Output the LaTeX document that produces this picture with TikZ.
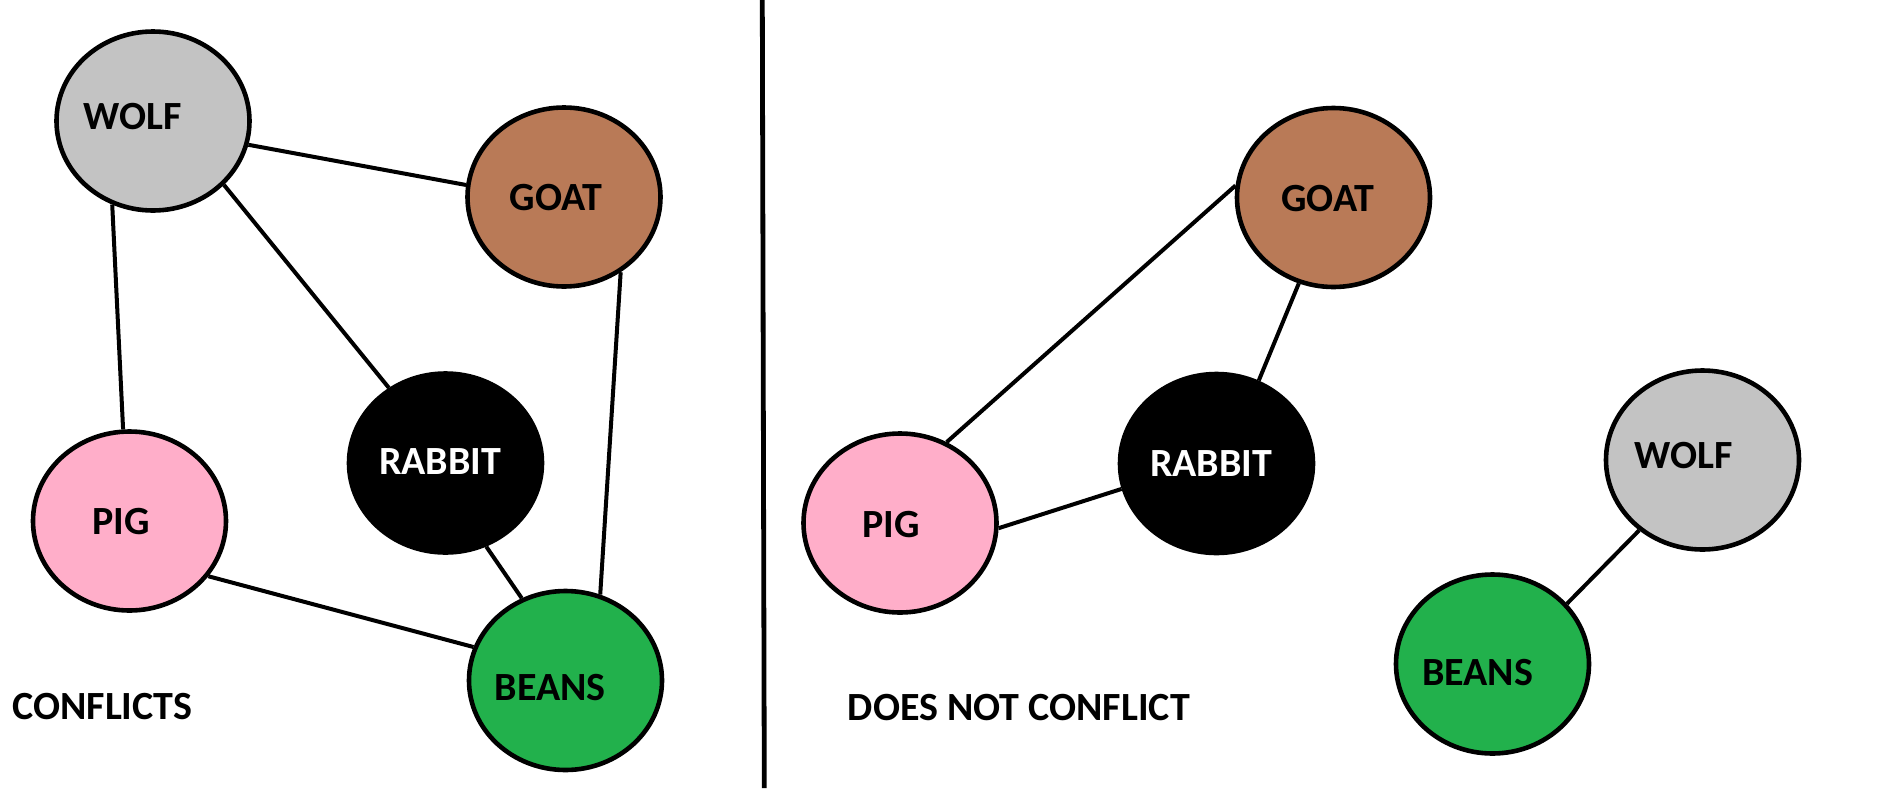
\documentclass[tikz,border=0pt]{standalone}
\usepackage{fontspec}
\setmainfont{Carlito}
\usepackage{xcolor}
\usetikzlibrary{shapes}

\definecolor{wolfgray}{RGB}{195,195,195}
\definecolor{goatbrown}{RGB}{185,122,87}
\definecolor{pigpink}{RGB}{255,174,201}
\definecolor{beansgreen}{RGB}{34,177,76}

\begin{document}
\begin{tikzpicture}[x=0.5pt,y=-0.5pt,
		animal/.style={ellipse, draw=black, line width=2.3pt, minimum width=96.5pt, minimum height=89.5pt, inner sep=0pt},
		animaltext/.style={font=\bfseries\fontsize{20}{24}\selectfont},
		link/.style={line width=2pt}]
		\useasboundingbox (0,0) rectangle (1897,788);
		% left: conflicts
		\node[animal, fill=wolfgray, label={[animaltext, xshift=-10pt, yshift=2.2pt]center:WOLF}] (wolfL) at (153,121) {};
		\node[animal, fill=goatbrown, label={[animaltext, xshift=-4pt, yshift=-0.5pt]center:GOAT}] (goatL) at (564,197) {};
		\node[animal, fill=black, label={[animaltext, text=white, xshift=-2.7pt, yshift=0.5pt]center:RABBIT}] (rabbitL) at (445.5,463) {};
		\node[animal, fill=pigpink, label={[animaltext, xshift=-4.2pt, yshift=-0.5pt]center:PIG}] (pigL) at (129.5,521) {};
		\node[animal, fill=beansgreen, label={[animaltext, xshift=-7.7pt, yshift=-3.7pt]center:BEANS}] (beansL) at (565.5,680.5) {};
		\draw[link] (wolfL.-14.6) -- (goatL.173.7);
		\draw[link] (wolfL.-42.8) -- (rabbitL.127.8);
		\draw[link] (wolfL.244.8) -- (pigL.94.3);
		\draw[link] (goatL.-53.3) -- (beansL.68.6);
		\draw[link] (rabbitL.-64.5) -- (beansL.118);
		\draw[link] (pigL.-35) -- (beansL.160);
		\node[animaltext, anchor=west, inner sep=0pt] (conflicts) at (12,707) {CONFLICTS};
		% divider
		\draw[line width=2.4pt] (762.3,0) -- (764.3,788);
		% right: does not conflict
		\node[animal, fill=goatbrown, label={[animaltext, xshift=-3pt, yshift=-0.7pt]center:GOAT}] (goatR) at (1333.5,197.5) {};
		\node[animal, fill=black, label={[animaltext, text=white, xshift=-2.7pt]center:RABBIT}] (rabbitR) at (1216.5,463.5) {};
		\node[animal, fill=pigpink, label={[animaltext, xshift=-4.5pt, yshift=-0.8pt]center:PIG}] (pigR) at (900,523) {};
		\node[animal, fill=wolfgray, label={[animaltext, xshift=-9.5pt, yshift=2pt]center:WOLF}] (wolfR) at (1702.5,460) {};
		\node[animal, fill=beansgreen, label={[animaltext, xshift=-7.5pt, yshift=-4.5pt]center:BEANS}] (beansR) at (1492.5,664) {};
		\draw[link] (pigR.60.4) -- (goatR.173.6);
		\draw[link] (goatR.248) -- (rabbitR.63.3);
		\draw[link] (pigR.-3.9) -- (rabbitR.195.8);
		\draw[link] (beansR.39.4) -- (wolfR.228);
		\node[animaltext, anchor=west, inner sep=0pt] (noconflict) at (847.5,708) {DOES NOT CONFLICT};
\end{tikzpicture}
\end{document}
